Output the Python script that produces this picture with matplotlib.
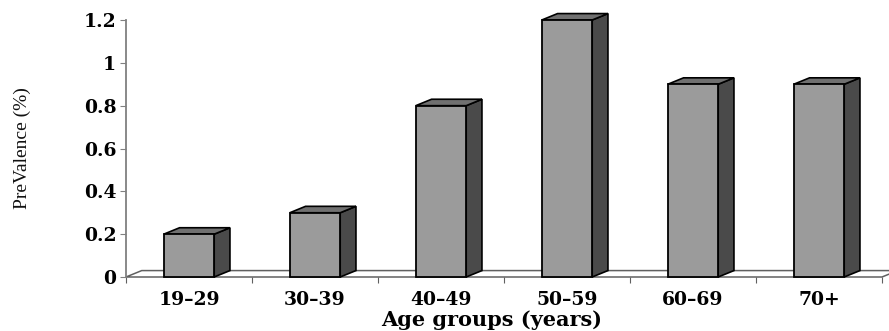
import matplotlib
matplotlib.use("Agg")
import matplotlib.pyplot as plt
from matplotlib.patches import Polygon, Rectangle
from matplotlib.ticker import FixedLocator, NullFormatter, FixedFormatter

categories = ["19\u201329", "30\u201339", "40\u201349", "50\u201359", "60\u201369", "70+"]
prevalence = [0.2, 0.3, 0.8, 1.2, 0.9, 0.9]
y_ticks = [0, 0.2, 0.4, 0.6, 0.8, 1, 1.2]
y_tick_labels = ["0", "0.2", "0.4", "0.6", "0.8", "1", "1.2"]

W, H = 889, 331
fig = plt.figure(figsize=(W / 100, H / 100), dpi=100)
left_px, right_px, top_px, bot_px = 126, 889, 20, 277
ax = fig.add_axes([left_px / W, (H - bot_px) / H, (right_px - left_px) / W, (bot_px - top_px) / H])
n = len(categories)
ax.set_xlim(0, (right_px - left_px) / 126)
ax.set_ylim(0, 1.2)

for s in ["top", "right", "bottom"]:
    ax.spines[s].set_visible(False)
ax.spines["left"].set_color("#808080")
ax.spines["left"].set_linewidth(1.3)

dx, dy = 0.125, 0.03
bw = 0.40

# floor
floor = Polygon([(0, 0), (dx, dy), (n + dx, dy), (n, 0)], closed=True,
                facecolor="white", edgecolor="#606060", lw=1.1, zorder=1, clip_on=False)
ax.add_patch(floor)

for i, v in enumerate(prevalence):
    x0 = i + 0.5 - bw / 2
    x1 = x0 + bw
    side = Polygon([(x1, 0), (x1 + dx, dy), (x1 + dx, v + dy), (x1, v)], closed=True,
                   facecolor="#4a4a4a", edgecolor="black", lw=1.2, zorder=3, clip_on=False)
    top = Polygon([(x0, v), (x0 + dx, v + dy), (x1 + dx, v + dy), (x1, v)], closed=True,
                  facecolor="#707070", edgecolor="black", lw=1.2, zorder=3, clip_on=False)
    front = Rectangle((x0, 0), bw, v, facecolor="#9b9b9b", edgecolor="black", lw=1.3,
                      zorder=4, clip_on=False)
    ax.add_patch(side)
    ax.add_patch(top)
    ax.add_patch(front)

serif_bold = dict(family="DejaVu Serif", weight="bold")

ax.set_yticks(y_ticks)
ax.set_yticklabels(y_tick_labels, fontsize=13.5, **serif_bold)
ax.tick_params(axis="y", direction="out", length=4, color="#808080", pad=3)

ax.xaxis.set_major_locator(FixedLocator(list(range(n + 1))))
ax.xaxis.set_major_formatter(NullFormatter())
ax.xaxis.set_minor_locator(FixedLocator([i + 0.5 for i in range(n)]))
ax.xaxis.set_minor_formatter(FixedFormatter(categories))
ax.tick_params(axis="x", which="major", direction="out", length=4, color="#606060")
ax.tick_params(axis="x", which="minor", length=0, pad=10)
for lbl in ax.xaxis.get_minorticklabels():
    lbl.set_fontsize(13.5)
    lbl.set_family("DejaVu Serif")
    lbl.set_weight("bold")

ax.set_xlabel("Age groups (years)", fontsize=15, **serif_bold)
ax.xaxis.set_label_coords((492 - left_px) / (right_px - left_px), -(320 - bot_px) / (bot_px - top_px))
ax.xaxis.label.set_va("center")

fig.text(22 / W, 1 - 148 / H, "PreValence (%)", rotation=90, ha="center", va="center",
         fontsize=14, family="Liberation Serif", color="#111111")

fig.savefig("out.png", dpi=100)
